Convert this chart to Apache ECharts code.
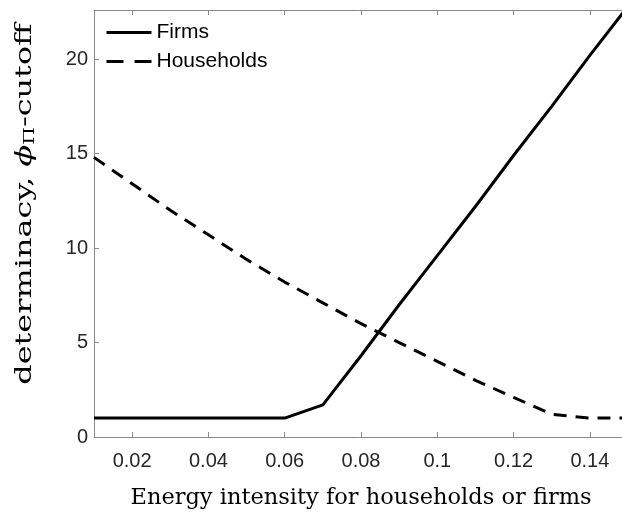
<!DOCTYPE html>
<html>
<head>
<meta charset="utf-8">
<script src="https://cdn.jsdelivr.net/npm/echarts@6/dist/echarts.min.js"></script>
<style>
  html, body { margin: 0; padding: 0; background: #fff; }
  #chart { width: 622px; height: 515px; }
</style>
</head>
<body>
<div id="chart"></div>
<script>
// energy intensity grid
const intensity = [0.01, 0.02, 0.03, 0.04, 0.05, 0.06, 0.07, 0.08, 0.09, 0.10, 0.11, 0.12, 0.13, 0.14, 0.15];
// determinacy cutoff values
const firms = [1, 1, 1, 1, 1, 1, 1.7, 4.3, 7.0, 9.6, 12.2, 14.9, 17.5, 20.2, 22.8];
const households = [14.8, 13.4, 12.0, 10.7, 9.4, 8.2, 7.1, 6.0, 5.0, 4.0, 3.0, 2.1, 1.2, 1.0, 1.0];

const xTicks = [0.02, 0.04, 0.06, 0.08, 0.1, 0.12, 0.14];
const yTicks = [0, 5, 10, 15, 20];

const axisGray = '#8a8a8a';
const textDark = '#262626';

const chart = echarts.init(document.getElementById('chart'));

const xBase = {
    type: 'value',
    min: 0.01,
    max: 0.15,
    splitLine: { show: false },
    axisLine: { show: true, onZero: false, lineStyle: { color: axisGray, width: 1 } },
    axisTick: { show: true, inside: true, length: 5, customValues: xTicks, lineStyle: { color: axisGray } },
};

chart.setOption({
    animation: false,
    // plot box runs a little past the right edge of the picture
    grid: { left: 94, width: 534, top: 10, bottom: 78, outerBoundsMode: 'none' },
    legend: {
        orient: 'vertical',
        left: 100,
        top: 17,
        itemWidth: 45,
        itemHeight: 20,
        itemGap: 8,
        itemStyle: { opacity: 0 },
        textStyle: { fontFamily: 'Liberation Sans', fontSize: 21, color: '#000' },
        data: [
            { name: 'Firms', lineStyle: { width: 3 } },
            { name: 'Households', lineStyle: { width: 3, type: [17, 11] } }
        ]
    },
    xAxis: [
        {
            ...xBase,
            position: 'bottom',
            name: 'Energy intensity for households or firms',
            nameLocation: 'middle',
            nameGap: 50,
            nameTextStyle: { fontFamily: 'DejaVu Serif', fontSize: 22.5, color: '#000' },
            axisLabel: {
                customValues: xTicks,
                margin: 14,
                fontFamily: 'Liberation Sans',
                fontSize: 20,
                color: textDark,
                formatter: v => String(+v.toFixed(2))
            }
        },
        {
            ...xBase,
            position: 'top',
            axisLabel: { show: false }
        }
    ],
    yAxis: {
        type: 'value',
        min: 0,
        max: 22.6,
        splitLine: { show: false },
        axisLine: { show: true, lineStyle: { color: axisGray, width: 1 } },
        axisTick: { show: true, inside: true, length: 5, customValues: yTicks, lineStyle: { color: axisGray } },
        axisLabel: {
            customValues: yTicks,
            margin: 6,
            fontFamily: 'Liberation Sans',
            fontSize: 20,
            color: textDark
        }
    },
    // y title is stretched along its length in the reference, so draw it as a scaled text
    graphic: [{
        type: 'text',
        x: 25,
        y: 204,
        rotation: Math.PI / 2,
        scaleX: 1.45,
        style: {
            text: '{t|determinacy, }{phi|ϕ}{sub|Π}{t|-cutoff}',
            align: 'center',
            verticalAlign: 'middle',
            rich: {
                t: { fontFamily: 'DejaVu Serif', fontSize: 22, fill: '#000' },
                phi: { fontFamily: 'DejaVu Serif', fontStyle: 'italic', fontSize: 22, fill: '#000' },
                sub: { fontFamily: 'DejaVu Serif', fontSize: 14, fill: '#000', padding: [10, 0, 0, 0] }
            }
        }
    }],
    series: [
        {
            name: 'Firms',
            type: 'line',
            xAxisIndex: 0,
            data: intensity.map((x, i) => [x, firms[i]]),
            symbol: 'none',
            clip: true,
            lineStyle: { color: '#000', width: 3, type: 'solid' },
            itemStyle: { color: '#000' }
        },
        {
            name: 'Households',
            type: 'line',
            xAxisIndex: 0,
            data: intensity.map((x, i) => [x, households[i]]),
            symbol: 'none',
            clip: true,
            lineStyle: { color: '#000', width: 3, type: [13, 9] },
            itemStyle: { color: '#000' }
        }
    ]
});
</script>
</body>
</html>
